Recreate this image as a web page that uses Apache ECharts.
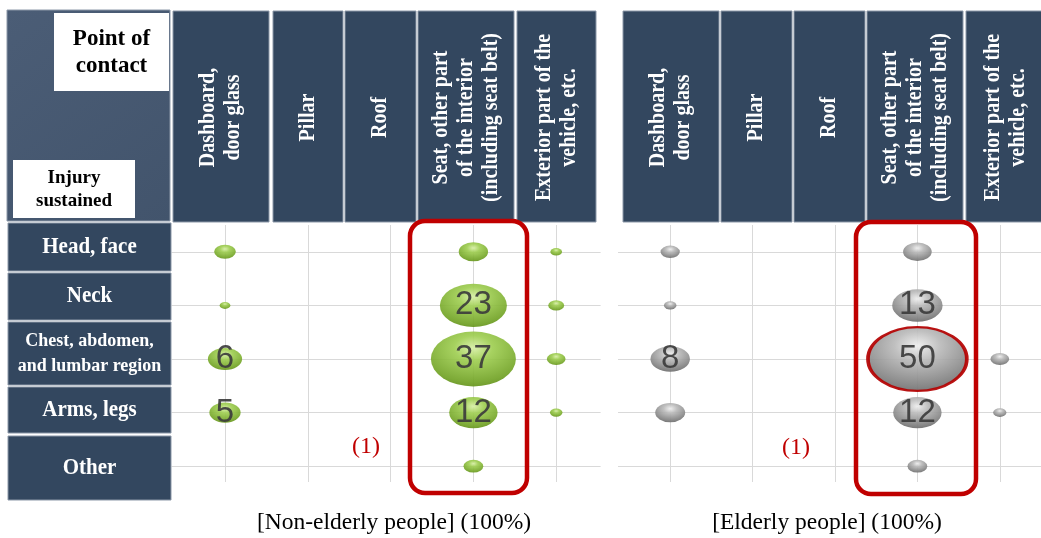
<!DOCTYPE html>
<html><head><meta charset="utf-8">
<script src="https://cdn.jsdelivr.net/npm/echarts@6/dist/echarts.min.js"></script>
<style>html,body{margin:0;padding:0;background:#fff}#c{width:1041px;height:538px}</style>
</head><body><div id="c"></div>
<script>
// ---------- data ----------
const contactPoints = ['Dashboard,\ndoor glass', 'Pillar', 'Roof', 'Seat, other part\nof the interior\n(including seat belt)', 'Exterior part of the\nvehicle, etc.'];
const injuryTypes = ['Head, face', 'Neck', 'Chest, abdomen,\nand lumbar region', 'Arms, legs', 'Other'];
const panelTitles = ['[Non-elderly people] (100%)', '[Elderly people] (100%)'];
const cornerTop = 'Point of\ncontact';
const cornerBottom = 'Injury\nsustained';
const noteLabel = '(1)';
// share (%) per injury row, columns follow contactPoints
const nonElderlyHeadFace = [2.4, 0, 0, 4.4, 0.7];
const nonElderlyNeck     = [0.6, 0, 0, 23, 1.3];
const nonElderlyChest    = [6, 0, 0, 37, 1.8];
const nonElderlyArmsLegs = [5, 0, 0, 12, 0.8];
const nonElderlyOther    = [0, 0, 0, 2, 0];
const elderlyHeadFace = [1.9, 0, 0, 4.2, 0];
const elderlyNeck     = [0.8, 0, 0, 13, 0];
const elderlyChest    = [8, 0, 0, 50, 1.8];
const elderlyArmsLegs = [4.6, 0, 0, 12, 0.9];
const elderlyOther    = [0, 0, 0, 2, 0];

const nonElderlyRows = [nonElderlyHeadFace, nonElderlyNeck, nonElderlyChest, nonElderlyArmsLegs, nonElderlyOther];
const elderlyRows = [elderlyHeadFace, elderlyNeck, elderlyChest, elderlyArmsLegs, elderlyOther];

// ---------- styling / layout ----------
const SERIF = '"Liberation Serif", "Times New Roman", serif';
const HEAD_FILL = '#33475f';
const HEAD_STROKE = '#8c98a8';
const AREA_PER_UNIT = 126;   // px^2 per percentage point
const ASPECT = 1.55;         // bubble width / height
const LABEL_MIN = 5;

function buildData(rows, markMax) {
  let max = 0;
  rows.forEach(r => r.forEach(v => { if (v > max) max = v; }));
  const out = [];
  rows.forEach((r, ri) => r.forEach((v, ci) => {
    if (v > 0) {
      const item = { value: [ci, ri, v] };
      if (markMax && v === max) item.itemStyle = { borderColor: '#b40000', borderWidth: 3 };
      out.push(item);
    }
  }));
  return out;
}

function bubbleColor(light, mid, dark, edge) {
  return {
    type: 'radial', x: 0.5, y: 0.3, r: 0.75,
    colorStops: [
      { offset: 0, color: light },
      { offset: 0.3, color: mid },
      { offset: 0.82, color: dark },
      { offset: 1, color: edge }
    ]
  };
}

const sizeFn = val => {
  const h = Math.sqrt(AREA_PER_UNIT * val[2] / ASPECT);
  return [h * ASPECT, h];
};

const labelCfg = {
  show: true, position: 'inside',
  formatter: p => (p.value[2] >= LABEL_MIN ? String(p.value[2]) : ''),
  color: '#3c3c3c', fontSize: 33, fontFamily: '"Liberation Sans", Arial, sans-serif'
};

const grids = [
  { left: 183.6, top: 225, width: 414, height: 268 },
  { left: 629, top: 225, width: 412.5, height: 268 }
];

function xAxisFor(i) {
  return {
    type: 'category', gridIndex: i, data: contactPoints, position: 'top',
    axisLine: { show: false }, axisLabel: { show: false, interval: 0 }, splitLine: { show: false },
    axisTick: { show: true, interval: 0, alignWithLabel: true, inside: true, length: 257, lineStyle: { color: '#d9d9d9', width: 1 } }
  };
}
function yAxisFor(i, off, len) {
  return {
    type: 'category', gridIndex: i, data: injuryTypes, inverse: true, offset: off,
    axisLine: { show: false }, axisLabel: { show: false, interval: 0 }, splitLine: { show: false },
    axisTick: { show: true, interval: 0, alignWithLabel: true, inside: true, length: len, lineStyle: { color: '#d9d9d9', width: 1 } }
  };
}

// ---------- table decoration (header cells) ----------
const leftCols = [[173, 269], [273, 343], [345, 416], [418, 514], [517, 596]];
const rightCols = [[623, 719], [721, 792], [794, 865], [867, 963], [966, 1045]];
const headTop = 11, headBottom = 222;
const rowBoxes = [[223, 271], [273, 320], [322, 385], [387, 433], [436, 500]];
const rowBoxX = [8, 171];

const els = [];
function box(x0, y0, x1, y1, fill, stroke) {
  els.push({ type: 'rect', z: 1, shape: { x: x0, y: y0, width: x1 - x0, height: y1 - y0 }, style: { fill: fill, stroke: stroke, lineWidth: 1 } });
}
function txt(x, y, text, font, color, rot, lh, sy) {
  els.push({ type: 'text', z: 2, x: x, y: y, rotation: rot || 0, scaleY: sy || 1,
    style: { text: text, font: font, fill: color, align: 'center', verticalAlign: 'middle', lineHeight: lh } });
}
// corner cell
els.push({ type: 'rect', z: 1, shape: { x: 7, y: 10, width: 163, height: 211 },
  style: { fill: { type: 'linear', x: 0, y: 0, x2: 1, y2: 1, colorStops: [{ offset: 0, color: '#4b5d76' }, { offset: 1, color: '#42546c' }] }, stroke: HEAD_STROKE, lineWidth: 1 } });
box(54, 13, 169, 91, '#ffffff', null);
box(13, 160, 135, 218, '#ffffff', null);
txt(111.5, 53, cornerTop, 'bold 23px ' + SERIF, '#000', 0, 27);
txt(74, 190, cornerBottom, 'bold 19px ' + SERIF, '#000', 0, 23);
[leftCols, rightCols].forEach(cols => cols.forEach((c, i) => {
  box(c[0], headTop, c[1], headBottom, HEAD_FILL, HEAD_STROKE);
  txt((c[0] + c[1]) / 2, (headTop + headBottom) / 2 + 1, contactPoints[i], 'bold 20px ' + SERIF, '#fff', Math.PI / 2, 22, 1.13);
}));
rowBoxes.forEach((r, i) => {
  box(rowBoxX[0], r[0], rowBoxX[1], r[1], HEAD_FILL, HEAD_STROKE);
  const lines = injuryTypes[i].indexOf('\n') >= 0;
  txt((rowBoxX[0] + rowBoxX[1]) / 2, (r[0] + r[1]) / 2, injuryTypes[i], 'bold ' + (lines ? 18 : 21) + 'px ' + SERIF, '#fff', 0, 23, 1.06);
});
// highlight frames around the seat column
els.push({ type: 'rect', z: 5, shape: { x: 410, y: 221, width: 117, height: 272, r: 15 }, style: { fill: 'none', stroke: '#c00000', lineWidth: 4.5 } });
els.push({ type: 'rect', z: 5, shape: { x: 856, y: 222, width: 120, height: 272, r: 15 }, style: { fill: 'none', stroke: '#c00000', lineWidth: 4.5 } });
txt(366, 447, noteLabel, '24px ' + SERIF, '#c00000', 0, 26);
txt(796, 448, noteLabel, '24px ' + SERIF, '#c00000', 0, 26);
txt(394, 523, panelTitles[0], '23.5px ' + SERIF, '#000', 0, 26);
txt(827, 523, panelTitles[1], '23.5px ' + SERIF, '#000', 0, 26);

const chart = echarts.init(document.getElementById('c'), null, { renderer: 'canvas' });
chart.setOption({
  backgroundColor: '#ffffff',
  animation: false,
  grid: grids,
  xAxis: [xAxisFor(0), xAxisFor(1)],
  yAxis: [yAxisFor(0, 12, 429), yAxisFor(1, 11, 424)],
  graphic: { elements: els },
  series: [
    {
      type: 'scatter', xAxisIndex: 0, yAxisIndex: 0, symbol: 'circle', symbolSize: sizeFn,
      data: buildData(nonElderlyRows, false),
      itemStyle: { color: bubbleColor('#d8efa6', '#9fce52', '#72a326', '#5f8c18'), opacity: 0.92 },
      label: labelCfg
    },
    {
      type: 'scatter', xAxisIndex: 1, yAxisIndex: 1, symbol: 'circle', symbolSize: sizeFn,
      data: buildData(elderlyRows, true),
      itemStyle: { color: bubbleColor('#eeeeee', '#bababa', '#7d7d7d', '#646464'), opacity: 0.92 },
      label: labelCfg
    }
  ]
});
</script></body></html>
